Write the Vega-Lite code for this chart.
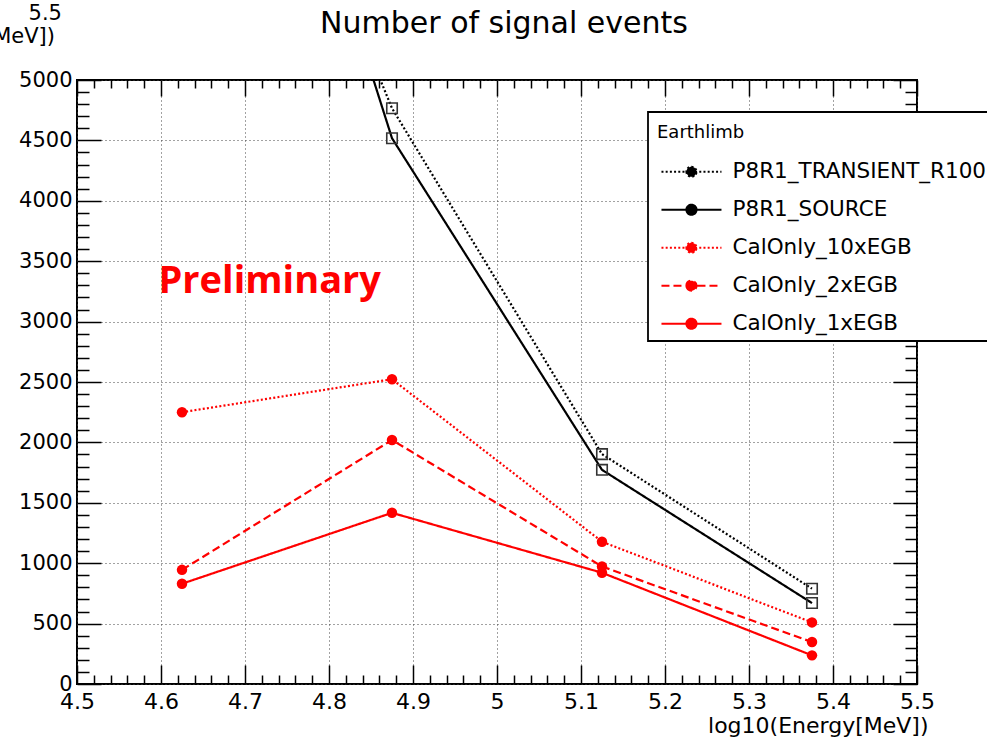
{
  "$schema": "https://vega.github.io/schema/vega-lite/v6.json",
  "width": 840,
  "height": 604,
  "autosize": {"type": "none"},
  "padding": {"left": 77, "top": 80, "right": 70, "bottom": 55},
  "background": "white",
  "title": {
    "text": "Number of signal events",
    "font": "DejaVu Sans",
    "fontSize": 30,
    "fontWeight": "normal",
    "color": "black",
    "anchor": "middle",
    "frame": "group",
    "baseline": "alphabetic",
    "offset": -60,
    "dx": 7
  },
  "config": {
    "view": {"stroke": "black", "strokeWidth": 2},
    "axis": {
      "domain": false,
      "labelFont": "DejaVu Sans",
      "labelColor": "black",
      "titleFont": "DejaVu Sans",
      "titleColor": "black",
      "tickColor": "black",
      "tickWidth": 1.5,
      "labelOverlap": false,
      "labelFlush": false,
      "labelBound": false,
      "gridColor": "#444",
      "gridDash": [1, 3],
      "gridWidth": 1
    }
  },
  "data": {
    "values": [
      {"series": "P8R1_TRANSIENT_R100", "x": 4.625, "y": 9000},
      {"series": "P8R1_TRANSIENT_R100", "x": 4.875, "y": 4766},
      {"series": "P8R1_TRANSIENT_R100", "x": 5.125, "y": 1903},
      {"series": "P8R1_TRANSIENT_R100", "x": 5.375, "y": 789},
      {"series": "P8R1_SOURCE", "x": 4.625, "y": 10000},
      {"series": "P8R1_SOURCE", "x": 4.875, "y": 4518},
      {"series": "P8R1_SOURCE", "x": 5.125, "y": 1773},
      {"series": "P8R1_SOURCE", "x": 5.375, "y": 670},
      {"series": "CalOnly_10xEGB", "x": 4.625, "y": 2250},
      {"series": "CalOnly_10xEGB", "x": 4.875, "y": 2523},
      {"series": "CalOnly_10xEGB", "x": 5.125, "y": 1178},
      {"series": "CalOnly_10xEGB", "x": 5.375, "y": 510},
      {"series": "CalOnly_2xEGB", "x": 4.625, "y": 945},
      {"series": "CalOnly_2xEGB", "x": 4.875, "y": 2020},
      {"series": "CalOnly_2xEGB", "x": 5.125, "y": 973},
      {"series": "CalOnly_2xEGB", "x": 5.375, "y": 347},
      {"series": "CalOnly_1xEGB", "x": 4.625, "y": 830},
      {"series": "CalOnly_1xEGB", "x": 4.875, "y": 1417},
      {"series": "CalOnly_1xEGB", "x": 5.125, "y": 921},
      {"series": "CalOnly_1xEGB", "x": 5.375, "y": 237}
    ]
  },
  "resolve": {"axis": {"x": "independent", "y": "independent"}},
  "layer": [
    {
      "mark": {"type": "line", "clip": true, "strokeWidth": 2.2},
      "encoding": {
        "x": {
          "field": "x", "type": "quantitative",
          "scale": {"domain": [4.5, 5.5], "nice": false, "zero": false},
          "axis": {
            "orient": "bottom",
            "title": "log10(Energy[MeV])",
            "titleFontSize": 22,
            "titleFontWeight": "normal",
            "titleAlign": "right",
            "titleBaseline": "alphabetic",
            "titleX": 851,
            "titleY": 48,
            "grid": true,
            "gridOpacity": {"condition": {"test": "abs(datum.value*10 - round(datum.value*10)) < 1e-6", "value": 1}, "value": 0},
            "values": [4.5, 4.52, 4.54, 4.56, 4.58, 4.6, 4.62, 4.64, 4.66, 4.68, 4.7, 4.72, 4.74, 4.76, 4.78, 4.8, 4.82, 4.84, 4.86, 4.88, 4.9, 4.92, 4.94, 4.96, 4.98, 5.0, 5.02, 5.04, 5.06, 5.08, 5.1, 5.12, 5.14, 5.16, 5.18, 5.2, 5.22, 5.24, 5.26, 5.28, 5.3, 5.32, 5.34, 5.36, 5.38, 5.4, 5.42, 5.44, 5.46, 5.48, 5.5],
            "labelExpr": "abs(datum.value*10 - round(datum.value*10)) < 1e-6 ? format(datum.value, '~g') : ''",
            "labelFontSize": 22,
            "labelPadding": 26,
            "tickSize": {"condition": {"test": "abs(datum.value*10 - round(datum.value*10)) < 1e-6", "value": -19}, "value": -9}
          }
        },
        "y": {
          "field": "y", "type": "quantitative",
          "scale": {"domain": [0, 5000], "nice": false, "zero": false},
          "axis": {
            "orient": "left",
            "title": null,
            "grid": true,
            "gridOpacity": {"condition": {"test": "datum.value % 500 === 0", "value": 1}, "value": 0},
            "values": [0, 100, 200, 300, 400, 500, 600, 700, 800, 900, 1000, 1100, 1200, 1300, 1400, 1500, 1600, 1700, 1800, 1900, 2000, 2100, 2200, 2300, 2400, 2500, 2600, 2700, 2800, 2900, 3000, 3100, 3200, 3300, 3400, 3500, 3600, 3700, 3800, 3900, 4000, 4100, 4200, 4300, 4400, 4500, 4600, 4700, 4800, 4900, 5000],
            "labelExpr": "datum.value % 500 === 0 ? format(datum.value, 'd') : ''",
            "labelFontSize": 21,
            "labelPadding": 29,
            "tickSize": {"condition": {"test": "datum.value % 500 === 0", "value": -24}, "value": -12}
          }
        },
        "color": {
          "field": "series", "type": "nominal",
          "scale": {
            "domain": ["P8R1_TRANSIENT_R100", "P8R1_SOURCE", "CalOnly_10xEGB", "CalOnly_2xEGB", "CalOnly_1xEGB"],
            "range": ["#000000", "#000000", "#ff0000", "#ff0000", "#ff0000"]
          },
          "legend": {
            "orient": "none",
            "legendX": 571,
            "legendY": 32,
            "title": "Earthlimb",
            "titleFont": "DejaVu Sans",
            "titleFontSize": 18,
            "titleFontWeight": "normal",
            "titleColor": "black",
            "titlePadding": 25,
            "labelFont": "DejaVu Sans",
            "labelFontSize": 21.5,
            "labelColor": "black",
            "labelLimit": 0,
            "symbolType": "M-1.38,0H8.62M2.79,0A0.83,0.83 0 1,0 4.45,0A0.83,0.83 0 1,0 2.79,0Z",
            "symbolSize": 144,
            "symbolStrokeWidth": 2.2,
            "symbolOffset": 5,
            "labelOffset": 52,
            "padding": 6,
            "rowPadding": 15,
            "strokeColor": "black",
            "fillColor": "white",
            "encode": {
              "legend": {"update": {"strokeWidth": {"value": 1.8}}},
              "title": {"update": {"dx": {"value": 3}, "dy": {"value": 6}}},
              "symbols": {"update": {
                "fill": {"scale": "color", "field": "value"},
                "stroke": {"scale": "color", "field": "value"},
                "strokeDash": {"scale": "strokeDash", "field": "value"},
                "opacity": {"value": 1}
              }}
            }
          }
        },
        "strokeDash": {
          "field": "series", "type": "nominal",
          "scale": {
            "domain": ["P8R1_TRANSIENT_R100", "P8R1_SOURCE", "CalOnly_10xEGB", "CalOnly_2xEGB", "CalOnly_1xEGB"],
            "range": [[2, 2.2], [1, 0], [2, 2.2], [8, 4], [1, 0]]
          },
          "legend": null
        }
      }
    },
    {
      "transform": [{"filter": "indexof(datum.series, 'CalOnly') === 0"}],
      "mark": {"type": "point", "shape": "circle", "filled": true, "color": "#ff0000", "opacity": 1, "size": 110, "clip": true},
      "encoding": {
        "x": {
          "field": "x", "type": "quantitative",
          "axis": {
            "orient": "top",
            "title": null,
            "labels": false,
            "grid": false,
            "values": [4.5, 4.52, 4.54, 4.56, 4.58, 4.6, 4.62, 4.64, 4.66, 4.68, 4.7, 4.72, 4.74, 4.76, 4.78, 4.8, 4.82, 4.84, 4.86, 4.88, 4.9, 4.92, 4.94, 4.96, 4.98, 5.0, 5.02, 5.04, 5.06, 5.08, 5.1, 5.12, 5.14, 5.16, 5.18, 5.2, 5.22, 5.24, 5.26, 5.28, 5.3, 5.32, 5.34, 5.36, 5.38, 5.4, 5.42, 5.44, 5.46, 5.48, 5.5],
            "tickSize": {"condition": {"test": "abs(datum.value*10 - round(datum.value*10)) < 1e-6", "value": -16}, "value": -8}
          }
        },
        "y": {
          "field": "y", "type": "quantitative",
          "axis": {
            "orient": "right",
            "title": null,
            "labels": false,
            "grid": false,
            "values": [0, 100, 200, 300, 400, 500, 600, 700, 800, 900, 1000, 1100, 1200, 1300, 1400, 1500, 1600, 1700, 1800, 1900, 2000, 2100, 2200, 2300, 2400, 2500, 2600, 2700, 2800, 2900, 3000, 3100, 3200, 3300, 3400, 3500, 3600, 3700, 3800, 3900, 4000, 4100, 4200, 4300, 4400, 4500, 4600, 4700, 4800, 4900, 5000],
            "tickSize": {"condition": {"test": "datum.value % 500 === 0", "value": -24}, "value": -12}
          }
        }
      }
    },
    {
      "transform": [{"filter": "indexof(datum.series, 'P8R1') === 0"}],
      "mark": {"type": "point", "shape": "square", "filled": false, "color": "#333333", "strokeWidth": 1.6, "opacity": 1, "size": 110, "clip": true},
      "encoding": {
        "x": {"field": "x", "type": "quantitative", "axis": null},
        "y": {"field": "y", "type": "quantitative", "axis": null}
      }
    },
    {
      "data": {"values": [{"label": "Preliminary", "x": 4.597, "y": 3234}]},
      "mark": {"type": "text", "font": "Open Sans", "fontWeight": "bold", "fontSize": 38, "color": "#ff0000", "align": "left", "baseline": "alphabetic"},
      "encoding": {
        "x": {"field": "x", "type": "quantitative", "axis": null},
        "y": {"field": "y", "type": "quantitative", "axis": null},
        "text": {"field": "label"}
      }
    },
    {
      "data": {"values": [
        {"label": "5.5", "x": 4.4821, "y": 5495},
        {"label": "MeV])", "x": 4.4738, "y": 5303}
      ]},
      "mark": {"type": "text", "font": "DejaVu Sans", "fontSize": 21, "color": "black", "align": "right", "baseline": "alphabetic", "clip": false},
      "encoding": {
        "x": {"field": "x", "type": "quantitative", "axis": null},
        "y": {"field": "y", "type": "quantitative", "axis": null},
        "text": {"field": "label"}
      }
    }
  ]
}
